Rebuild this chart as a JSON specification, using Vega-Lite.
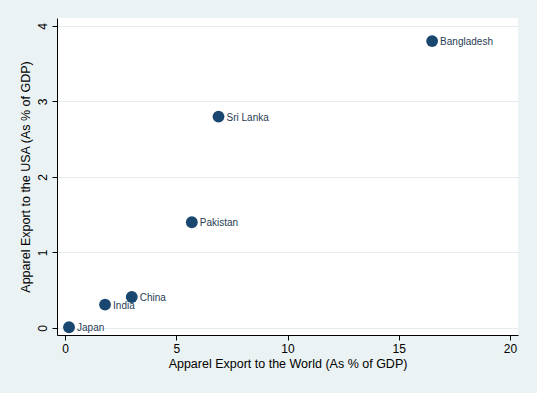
{
  "$schema": "https://vega.github.io/schema/vega-lite/v6.json",
  "width": 461,
  "height": 317,
  "autosize": {"type": "none"},
  "padding": {"left": 57, "top": 18, "right": 19, "bottom": 58},
  "background": "#eaf2f3",
  "config": {
    "view": {"fill": "white", "stroke": null},
    "font": "Liberation Sans"
  },
  "data": {
    "values": [
      {"country": "Japan", "world": 0.18, "usa": 0.01},
      {"country": "India", "world": 1.8, "usa": 0.31},
      {"country": "China", "world": 3.0, "usa": 0.41},
      {"country": "Pakistan", "world": 5.7, "usa": 1.4},
      {"country": "Sri Lanka", "world": 6.9, "usa": 2.8},
      {"country": "Bangladesh", "world": 16.5, "usa": 3.8}
    ]
  },
  "encoding": {
    "x": {
      "field": "world",
      "type": "quantitative",
      "scale": {"domain": [-0.36, 20.36], "nice": false, "zero": false},
      "axis": {
        "title": "Apparel Export to the World (As % of GDP)",
        "values": [0, 5, 10, 15, 20],
        "grid": false,
        "domainColor": "black",
        "tickColor": "black",
        "tickSize": 5,
        "labelFontSize": 12,
        "labelColor": "black",
        "labelPadding": 3,
        "titleFontSize": 12.5,
        "titleFontWeight": "normal",
        "titleColor": "black",
        "titlePadding": 3
      }
    },
    "y": {
      "field": "usa",
      "type": "quantitative",
      "scale": {"domain": [-0.093, 4.106], "nice": false, "zero": false},
      "axis": {
        "title": "Apparel Export to the USA (As % of GDP)",
        "values": [0, 1, 2, 3, 4],
        "grid": true,
        "gridColor": "#e4ecef",
        "domainColor": "black",
        "tickColor": "black",
        "tickSize": 5,
        "labelFontSize": 12,
        "labelColor": "black",
        "labelAngle": 270,
        "labelAlign": "center",
        "labelBaseline": "bottom",
        "labelPadding": 3,
        "titleFontSize": 12.5,
        "titleFontWeight": "normal",
        "titleColor": "black",
        "titlePadding": 4
      }
    }
  },
  "layer": [
    {
      "mark": {"type": "point", "filled": true, "size": 140, "color": "#1a476f", "opacity": 1}
    },
    {
      "mark": {"type": "text", "align": "left", "baseline": "middle", "dx": 8, "dy": 1, "fontSize": 10, "color": "#283c54"},
      "encoding": {"text": {"field": "country"}}
    }
  ]
}
